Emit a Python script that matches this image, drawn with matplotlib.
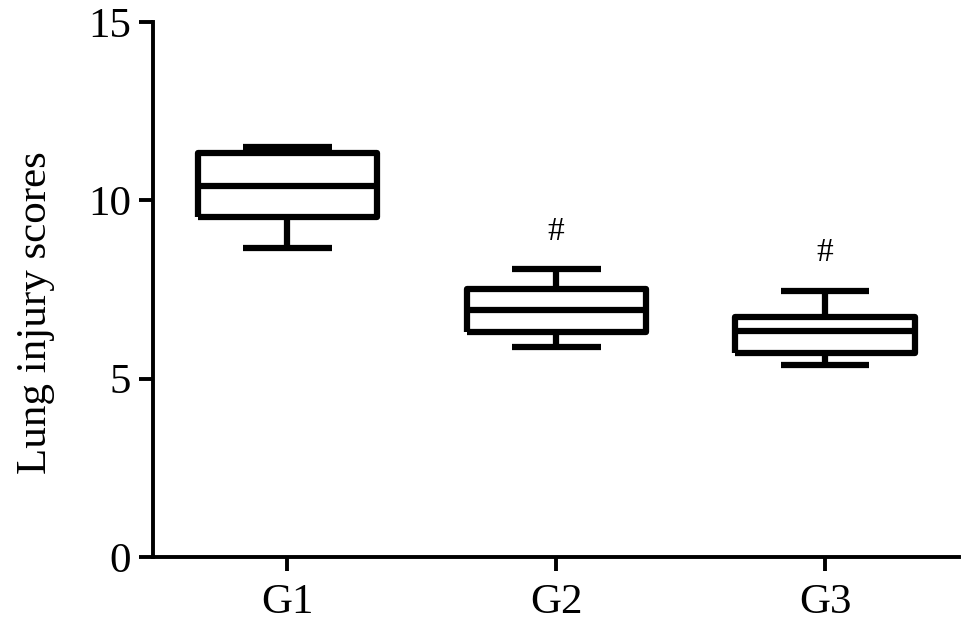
import matplotlib
matplotlib.use('Agg')
import matplotlib.pyplot as plt
from matplotlib import rcParams

rcParams['font.family'] = 'Liberation Serif'

# data
groups = ['G1', 'G2', 'G3']
whisker_low = [8.66, 5.90, 5.38]
q1 = [9.54, 6.32, 5.72]
median = [10.40, 6.92, 6.34]
q3 = [11.33, 7.51, 6.73]
whisker_high = [11.50, 8.07, 7.47]
marks = ['', '#', '#']

stats = []
for i, g in enumerate(groups):
    stats.append({'label': g, 'whislo': whisker_low[i], 'q1': q1[i], 'med': median[i],
                  'q3': q3[i], 'whishi': whisker_high[i], 'fliers': []})

fig = plt.figure(figsize=(9.69, 6.3), dpi=100)
ax = fig.add_axes([0.158, 0.116, 0.832, 0.849])

lw = 4.5
line = dict(color='black', linewidth=lw, solid_joinstyle='round', solid_capstyle='butt')
ax.bxp(stats, positions=[1, 2, 3], widths=0.667, showfliers=False,
       boxprops=line, medianprops=line, whiskerprops=line,
       capprops=line, capwidths=0.33)

for i, m in enumerate(marks):
    if m:
        ax.annotate(m, (i + 1, whisker_high[i]), xytext=(0, 16), textcoords='offset points',
                    ha='center', va='bottom', fontsize=24)

ax.set_xlim(0.5, 3.5)
ax.set_ylim(0, 15)
ax.set_yticks([0, 5, 10, 15])
ax.set_ylabel('Lung injury scores', fontsize=31)
ax.yaxis.set_label_coords(-0.122, 0.456)

for s in ['top', 'right']:
    ax.spines[s].set_visible(False)
for s in ['left', 'bottom']:
    ax.spines[s].set_linewidth(2.8)

ax.tick_params(axis='both', width=2.8, length=10, labelsize=31, pad=6)
ax.tick_params(axis='x', pad=9)

fig.savefig('out.png', dpi=100)
